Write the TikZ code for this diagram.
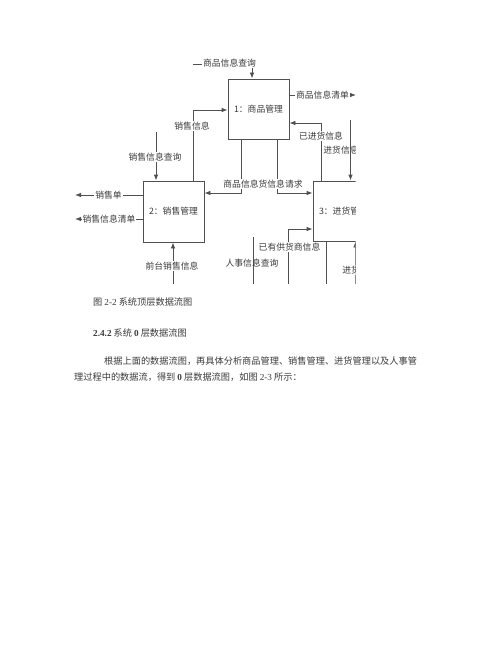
\documentclass[tikz,border=0pt]{standalone}
\usepackage{fontspec}
\usepackage{tikz}
\usetikzlibrary{positioning,arrows.meta}
\usepackage{xcolor}
\setmainfont{Liberation Serif}
\newfontfamily\cjk{Noto Sans CJK SC}
\newfontfamily\lat{Liberation Serif}
\definecolor{ink}{HTML}{3A3A3A}
\definecolor{wire}{HTML}{505050}

\begin{document}
\begin{tikzpicture}[x=1pt,y=-1pt,
    procbox/.style={draw=wire, line width=0.8pt, minimum width=61pt, minimum height=60pt,
        inner sep=0pt, font=\cjk\fontsize{8.8}{10}\selectfont, text=ink},
    flow/.style={draw=wire, line width=0.8pt, -{Latex[length=6pt,width=4.5pt]}},
    wire/.style={draw=wire, line width=0.8pt},
    flowlabel/.style={fill=white, inner sep=1pt, font=\cjk\fontsize{8.8}{10}\selectfont, text=ink},
    bodytext/.style={anchor=west, inner sep=0pt, font=\cjk\fontsize{9.2}{11}\selectfont, text=ink}]
    \useasboundingbox (0,0) rectangle (500,647);

    \begin{scope}
    \clip (60,50) rectangle (355.5,283.5);

    % Processes
    \node[procbox] (shangpin) at (258.5,109) {1：商品管理};
    \node[procbox, minimum height=61pt] (xiaoshou) at (173.5,211.5) {2：销售管理};
    \node[procbox] (jinhuo) at (343.5,211) {3：进货管理};

    % Free ends
    \coordinate (spcxIn) at (193,64);
    \coordinate (spqdOut) at (356,95);
    \coordinate (xscxIn) at (156,132);
    \coordinate (xsdOut) at (75,195);
    \coordinate (xsqdOut) at (75,219);
    \coordinate (qtxsIn) at (173,283.5);
    \coordinate (jhxxIn) at (350.5,120);
    \coordinate (gysIn) at (288,283.5);
    \coordinate (rscxTop) at (253,237);
    \coordinate (rscxBot) at (253,283.5);
    \coordinate (jhdIn) at (355.5,283.5);
    \coordinate (qqRow) at (0,193);

    % Flows round process 1
    \draw[flow] (spcxIn) -| ([xshift=-6.5pt]shangpin.north);
    \draw[flow] (shangpin.east |- spqdOut) -- (spqdOut);
    \draw[flow] ([xshift=19.5pt]xiaoshou.north) |- ([yshift=-1pt]shangpin.west);
    \draw[flow] ([xshift=-17.5pt]shangpin.south) |- (xiaoshou.east |- qqRow);
    \draw[flow] ([xshift=18.5pt]shangpin.south) |- (jinhuo.west |- qqRow);
    \draw[flow] ([xshift=-22.5pt]jinhuo.north) |- (shangpin.east |- 0,123);

    % Flows round process 2
    \draw[flow] (xscxIn) -- (xscxIn |- xiaoshou.north);
    \draw[flow] (xiaoshou.west |- xsdOut) -- (xsdOut);
    \draw[flow] (xiaoshou.west |- xsqdOut) -- (xsqdOut);
    \draw[flow] (qtxsIn) -- (qtxsIn |- xiaoshou.south);

    % Flows round process 3
    \draw[flow] (jhxxIn) -- (jhxxIn |- jinhuo.north);
    \draw[flow] (gysIn) |- (jinhuo.west |- 0,229);
    \draw[wire] (rscxTop) -- (rscxBot);
    \draw[wire] ([xshift=-17.5pt]jinhuo.south) -- ([xshift=-17.5pt]jinhuo.south |- jhdIn);
    \draw[flow] (jhdIn) -- (jhdIn |- jinhuo.south);

    % Flow labels
    \node[flowlabel] (lblSpcx) at (229.5,63) {商品信息查询};
    \node[flowlabel] (lblSpqd) at (322.5,95) {商品信息清单};
    \node[flowlabel] (lblXsxx) at (192,126) {销售信息};
    \node[flowlabel] (lblXscx) at (155,157) {销售信息查询};
    \node[flowlabel] (lblQq) at (263,184) {商品信息货信息请求};
    \node[flowlabel] (lblXsd) at (108.5,195) {销售单};
    \node[flowlabel] (lblXsqd) at (109,219) {销售信息清单};
    \node[flowlabel] (lblQtxs) at (172,266) {前台销售信息};
    \node[flowlabel] (lblYjh) at (321,136) {已进货信息};
    \node[flowlabel, fill=none] (lblJhxx) at (341,150) {进货信息};
    \node[flowlabel] (lblGys) at (289.5,247) {已有供货商信息};
    \node[flowlabel, fill=none] (lblRscx) at (252,263) {人事信息查询};
    \node[flowlabel] (lblJhd) at (360,270) {进货信息};
    \end{scope}

    % Caption and text
    \node[bodytext] (caption) at (93,302) {图 {\lat 2-2} 系统顶层数据流图};
    \node[bodytext] (section) at (93,333) {{\lat\bfseries 2.4.2} 系统 {\lat\bfseries 0} 层数据流图};
    \node[bodytext] (paraA) at (104,361) {根据上面的数据流图，再具体分析商品管理、销售管理、进货管理以及人事管};
    \node[bodytext] (paraB) at (74,377) {理过程中的数据流，得到 {\lat\bfseries 0} 层数据流图，如图 {\lat 2-3} 所示：};
\end{tikzpicture}
\end{document}
